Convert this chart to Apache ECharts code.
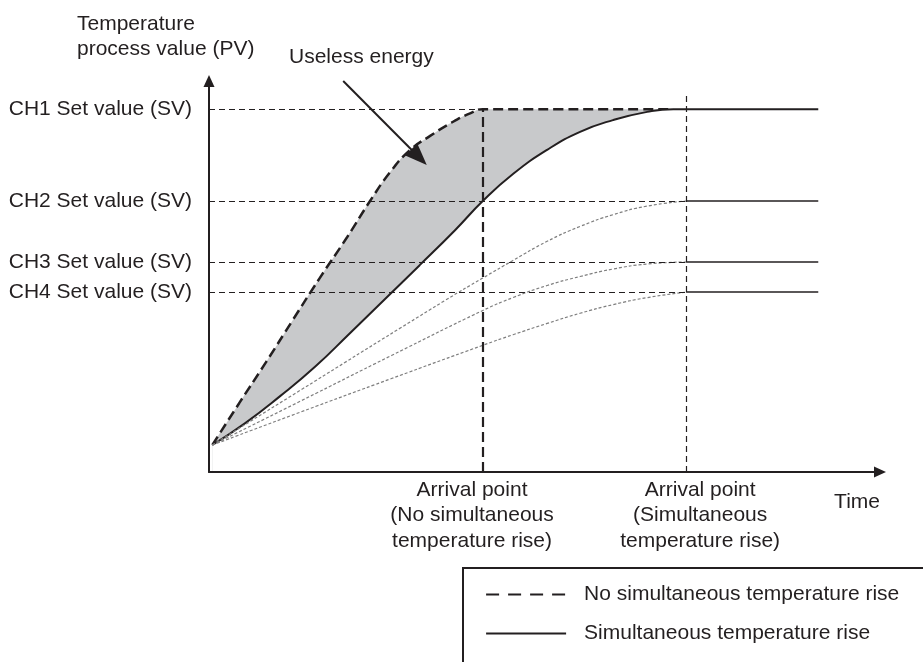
<!DOCTYPE html>
<html>
<head>
<meta charset="utf-8">
<script src="https://cdn.jsdelivr.net/npm/echarts@6/dist/echarts.min.js"></script>
<style>
html, body { margin: 0; padding: 0; background: #fff; }
#riseChart { width: 923px; height: 662px; }
</style>
</head>
<body>
<div id="riseChart"></div>
<script>
// 设定值 (SV)
var svNames = ['CH1 Set value (SV)', 'CH2 Set value (SV)', 'CH3 Set value (SV)', 'CH4 Set value (SV)'];
var svValues = [92.8, 69.3, 53.7, 46.0];
var svDashEnd = [40.8, 71.1, 71.1, 71.1];

// 到达点
var arrivalX = [40.8, 71.1];
var arrivalTop = [92.8, 96.9];
var arrivalLabelX = [39.2, 73.2];
var arrivalLabels = ['Arrival point\n(No simultaneous\ntemperature rise)', 'Arrival point\n(Simultaneous\ntemperature rise)'];
var holdEndX = 90.8;

// 曲线 [time, PV]
var noSimCurve = [[0.5, 6.9], [4.5, 17.6], [8.5, 28.1], [12.5, 38.9], [16.5, 49.6], [20.6, 60.1], [24.0, 69.3], [27.0, 76.7], [30.0, 82.4], [32.9, 85.9], [36.1, 89.3], [39.0, 91.8], [40.8, 92.8], [69.2, 92.8]];
var simCurve = [[0.5, 6.9], [5.4, 12.5], [10.6, 19.4], [15.8, 26.9], [21.0, 35.5], [26.2, 44.2], [31.4, 52.9], [36.7, 61.9], [40.8, 69.3], [45.3, 76.2], [50.4, 82.4], [55.3, 87.0], [60.2, 90.0], [65.3, 92.1], [69.2, 92.8], [90.8, 92.8]];
var ch2Curve = [[0.5, 6.9], [13.6, 20.9], [35.2, 43.9], [40.8, 49.6], [45.3, 54.1], [50.4, 59.0], [55.3, 62.8], [60.2, 65.8], [65.3, 68.0], [71.1, 69.3]];
var ch3Curve = [[0.5, 6.9], [13.6, 18.1], [27.2, 29.8], [40.8, 41.3], [45.3, 44.6], [50.4, 47.7], [55.3, 50.0], [60.2, 51.9], [65.3, 53.2], [71.1, 53.7]];
var ch4Curve = [[0.5, 6.9], [13.6, 15.3], [27.2, 23.9], [40.8, 32.4], [45.3, 35.1], [50.4, 38.0], [55.3, 40.6], [60.2, 42.8], [65.3, 44.6], [71.1, 46.0]];

// Useless energy 箭头
var arrowFrom = [20, 100];
var arrowTo = [31.3, 80.5];

var ink = '#231f20';
var font = 'Liberation Sans, Arial, sans-serif';

function riseChart(){
    var guides = [];
    svValues.forEach(function (v, i) {
        guides.push([
            {coord: [0, v], lineStyle: {color: ink, width: 1.2, type: [6, 4]}},
            {coord: [svDashEnd[i], v]}
        ]);
        if (i > 0) {
            guides.push([
                {coord: [arrivalX[1], v], lineStyle: {color: ink, width: 1.5, type: 'solid'}},
                {coord: [holdEndX, v]}
            ]);
        }
    });
    guides.push([
        {coord: [arrivalX[0], 0], lineStyle: {color: ink, width: 2.2, type: [10, 5]}},
        {coord: [arrivalX[0], arrivalTop[0]]}
    ]);
    guides.push([
        {coord: [arrivalX[1], 0], lineStyle: {color: ink, width: 1.2, type: [6, 4]}},
        {coord: [arrivalX[1], arrivalTop[1]]}
    ]);
    guides.push([
        {coord: arrowFrom, symbol: 'none', lineStyle: {color: ink, width: 2, type: 'solid'}},
        {coord: arrowTo, symbol: 'triangle', symbolSize: [17, 22]}
    ]);

    var grayLine = {color: '#7f7f7f', width: 1.2, type: [3, 2]};

    var option = {
        animation: false,
        backgroundColor: '#fff',
        title: [
            {
                text: 'Temperature\nprocess value (PV)',
                left: 77, top: 12, padding: 0,
                textStyle: {fontFamily: font, fontSize: 21, fontWeight: 'normal', lineHeight: 25, color: ink}
            },
            {
                text: 'Useless energy',
                left: 289, top: 45, padding: 0,
                textStyle: {fontFamily: font, fontSize: 21, fontWeight: 'normal', lineHeight: 24, color: ink}
            }
        ],
        legend: {
            orient: 'vertical',
            left: 463, top: 568,
            width: 500, height: 300,
            padding: [16, 40, 60, 22],
            itemWidth: 80, itemHeight: 20, itemGap: 18,
            borderColor: ink, borderWidth: 2, borderRadius: 0,
            selectedMode: false,
            itemStyle: {opacity: 0},
            textStyle: {fontFamily: font, fontSize: 21, color: ink, padding: [0, 0, 0, 13]},
            data: [
                {name: 'No simultaneous temperature rise', lineStyle: {type: [13, 9], width: 2.2}},
                {name: 'Simultaneous temperature rise', lineStyle: {width: 2}}
            ]
        },
        grid: {
            left: 209, right: 43, top: 81, bottom: 190,
            outerBoundsMode: 'none'
        },
        xAxis: {
            type: 'value', min: 0, max: 100, z: 10,
            name: 'Time', nameLocation: 'end', nameGap: 0,
            nameTextStyle: {fontFamily: font, fontSize: 21, color: ink, align: 'right', verticalAlign: 'top', padding: [20, 0, 0, 0]},
            axisLine: {show: true, symbol: ['none', 'triangle'], symbolSize: [11, 12], lineStyle: {color: ink, width: 2}},
            axisTick: {show: false},
            splitLine: {show: false},
            axisLabel: {
                customValues: arrivalLabelX,
                formatter: function (v) { return arrivalLabels[arrivalLabelX.indexOf(v)]; },
                fontFamily: font, fontSize: 21, lineHeight: 25.5, color: ink, margin: 5
            }
        },
        yAxis: {
            type: 'value', min: 0, max: 100, z: 10,
            axisLine: {show: true, symbol: ['none', 'triangle'], symbolSize: [11, 12], lineStyle: {color: ink, width: 2}},
            axisTick: {show: false},
            splitLine: {show: false},
            axisLabel: {
                customValues: svValues,
                formatter: function (v) { return svNames[svValues.indexOf(v)]; },
                fontFamily: font, fontSize: 21, color: ink, margin: 17
            }
        },
        series: [
            {
                name: 'No simultaneous temperature rise',
                type: 'line', smooth: 0.5, symbol: 'none', z: 2,
                lineStyle: {color: ink, width: 2.5, type: [10, 5]},
                areaStyle: {color: '#c8c9cb', opacity: 1},
                data: noSimCurve
            },
            {
                name: 'Simultaneous temperature rise',
                type: 'line', smooth: 0.5, symbol: 'none', z: 3,
                lineStyle: {color: ink, width: 2},
                areaStyle: {color: '#fff', opacity: 1},
                data: simCurve
            },
            {name: 'CH2', type: 'line', smooth: 0.5, symbol: 'none', z: 4, lineStyle: grayLine, data: ch2Curve},
            {name: 'CH3', type: 'line', smooth: 0.5, symbol: 'none', z: 4, lineStyle: grayLine, data: ch3Curve},
            {name: 'CH4', type: 'line', smooth: 0.5, symbol: 'none', z: 4, lineStyle: grayLine, data: ch4Curve},
            {
                name: 'guides', type: 'line', z: 5, data: [],
                markLine: {
                    silent: true, symbol: 'none', z: 5,
                    label: {show: false},
                    emphasis: {disabled: true},
                    data: guides
                }
            }
        ]
    };
    var myChart = echarts.init(document.getElementById('riseChart'));
    myChart.setOption(option);
}
riseChart();
</script>
</body>
</html>
